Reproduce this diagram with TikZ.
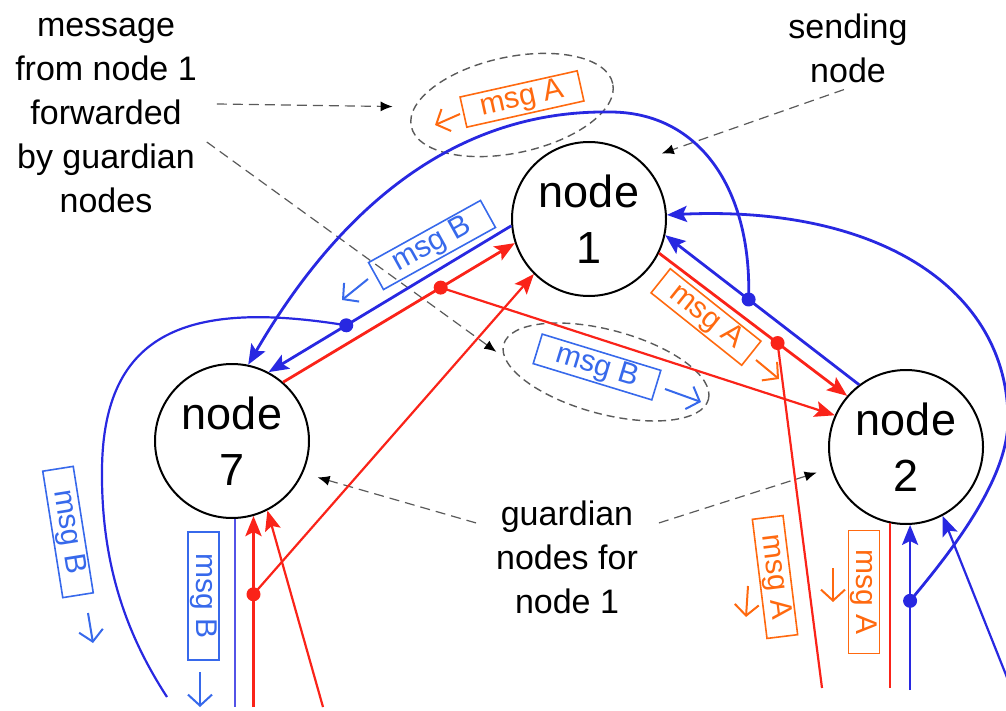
\documentclass[tikz,border=0pt]{standalone}
\usepackage{fontspec}
\setmainfont{Liberation Sans}
\usetikzlibrary{arrows.meta,positioning,shapes.geometric,calc}
\definecolor{lineblue}{RGB}{40,40,225}
\definecolor{msgblue}{RGB}{55,105,235}
\definecolor{linered}{RGB}{250,35,25}
\definecolor{msgorange}{RGB}{255,105,15}
\definecolor{hintgray}{RGB}{90,90,90}

\begin{document}
\begin{tikzpicture}[x=0.5pt,y=-0.5pt,node distance=2.5cm,on grid]
    \tikzset{station/.style={draw,circle,line width=1pt,minimum size=77pt,inner sep=0pt,align=center,font=\fontsize{22.5}{28}\selectfont},
      note/.style={align=center,font=\fontsize{17}{22}\selectfont},
      halo/.style={draw=hintgray,ellipse,dash pattern=on 4pt off 2.5pt,line width=0.7pt,inner sep=0pt},
      pointer/.style={draw=hintgray,dash pattern=on 5pt off 3pt,line width=0.6pt,-{Latex[length=6pt,width=5pt,color=black]}},
      msgA/.style={draw=msgorange,text=msgorange,line width=0.8pt,minimum width=60pt,minimum height=15pt,inner sep=1pt,font=\fontsize{15}{18}\selectfont},
      msgB/.style={msgA,draw=msgblue,text=msgblue},
      dirA/.style={msgorange,line width=1pt,-{Straight Barb[length=5.5pt,width=12pt]}},
      dirB/.style={dirA,msgblue},
      bline/.style={lineblue,line width=1.4pt},
      rline/.style={linered,line width=1.4pt},
      arr/.style={-{Stealth[length=10pt,width=8pt,inset=2pt]}},
      joint/.style={circle,inner sep=0pt,minimum size=7pt}}
    \useasboundingbox (0,0) rectangle (1006,711);
    \node[station] (n1) at (589,219) {node\\1};
    \node[station] (n7) [below left=111pt and 178.5pt of n1] {node\\7};
    \node[station] (n2) [below right=114pt and 158.5pt of n1] {node\\2};
    \node[note] (fwdtxt) at (106,116) {message\\from node 1\\forwarded\\by guardian\\nodes};
    \node[note] (sendtxt) at (848,48) {sending\\node};
    \node[note] (guardtxt) at (567,557) {guardian\\nodes for\\node 1};
    \node[halo,minimum width=103pt,minimum height=48pt,rotate=12] (ellA) at (512,105) {};
    \node[halo,minimum width=106pt,minimum height=42pt,rotate=-15] (ellB) at (606,372) {};

    \coordinate (jB1) at ($(n2.127)!0.57!(n1.348)$);
    \coordinate (jB3) at ($(n1.185)!0.68!(n7.62)$);
    \coordinate (jR1) at ($(n7.49)!0.68!(n1.198)$);
    \coordinate (jR2) at ($(n1.334)!0.63!(n2.139)$);
    \coordinate (bB7) at (n7.272 |- 0,707);
    \coordinate (bR7) at (n7.286 |- 0,707);
    \coordinate (bR7b) at (323,707);
    \coordinate (bB6) at (167,697);
    \coordinate (bR2a) at (822,688);
    \coordinate (bR2b) at (n2.258 |- 0,688);
    \coordinate (bB2) at (n2.273 |- 0,690);
    \coordinate (bB2b) at (1012,690);
    \coordinate (jR3) at ($(bR7)!0.59!(n7.286)$);
    \coordinate (jB2) at ($(bB2)!0.54!(n2.273)$);

    \draw[pointer] ([xshift=6.5pt,yshift=6pt]fwdtxt.east) -- ([xshift=-9pt,yshift=10pt]ellA.west);
    \draw[pointer] ([xshift=1.5pt,yshift=-13pt]fwdtxt.east) -- ([xshift=-3.3pt,yshift=-3.7pt]ellB.west);
    \draw[pointer] ([xshift=-2pt]sendtxt.south) -- ([shift={(42:10pt)}]n1.42);
    \draw[pointer] ([xshift=-6.5pt,yshift=-14.75pt]guardtxt.north west) -- ([shift={(-23:7.5pt)}]n7.-23);
    \draw[pointer] ([xshift=7pt,yshift=-14.75pt]guardtxt.north east) -- ([shift={(196:7.5pt)}]n2.196);

    \draw[bline,arr] (jB1) .. controls (752,190) and (700,112) .. (610,112) .. controls (470,110) and (350,190) .. (n7.78);
    \draw[bline,arr] (n2.127) -- (n1.348);
    \draw[bline,arr] (jB2) .. controls (950,553) and (1008,480) .. (1008,420) .. controls (1008,290) and (880,205) .. (n1.3);
    \draw[bline,arr] (n1.185) -- (n7.62);
    \draw[bline,line width=1.1pt] (jB3) .. controls (190,300) and (103,330) .. (102,470) .. controls (101,570) and (130,640) .. (bB6);
    \draw[lineblue!80,line width=1pt] (n7.272) -- (bB7);
    \draw[bline,arr] (bB2) -- (n2.273);
    \draw[bline,arr,line width=1.1pt] (bB2b) -- (n2.298);
    \draw[rline,arr] (n7.49) -- (n1.198);
    \draw[rline,arr,line width=1.1pt] (jR3) -- (n1.225);
    \draw[rline,arr,line width=1.1pt] (jR1) -- (n2.156);
    \draw[rline,arr] (n1.334) -- (n2.139);
    \draw[rline,line width=1.1pt] (jR2) -- (bR2a);
    \draw[rline,line width=1pt] (n2.258) -- (bR2b);
    \draw[rline,arr,line width=1.6pt] (bR7) -- (n7.286);
    \draw[rline,arr,line width=1.1pt] (bR7b) -- (n7.297);
    \foreach \j/\c in {jB1/lineblue,jB2/lineblue,jB3/lineblue,jR1/linered,jR2/linered,jR3/linered}
        \node[joint,fill=\c] (\j dot) at (\j) {};

    \node[msgA,rotate=12.6] (lblA1) at (522,99) {msg A};
    \node[msgB,rotate=29,minimum width=64pt] (lblB1) at (432,245) {msg B};
    \node[msgA,rotate=-38.6,minimum width=58pt] (lblA2) at (706,317) {msg A};
    \node[msgB,rotate=-17,minimum width=62pt] (lblB2) at (597,367) {msg B};
    \node[msgB,rotate=-81,minimum width=64pt] (lblB3) at (68,532) {msg B};
    \node[msgB,rotate=-90,minimum width=64pt] (lblB4) at (203.5,596) {msg B};
    \node[msgA,rotate=-83] (lblA3) at (775,577) {msg A};
    \node[msgA,rotate=-90,minimum width=61.5pt] (lblA4) at (864,592) {msg A};
    \draw[dirA] (460,114) -- (435,125);
    \draw[dirB] (368,279) -- (342,300);
    \draw[dirA] (756,360) -- (779,379);
    \draw[dirB] (665,389) -- (701,402);
    \draw[dirB] (88,613) -- (93,643);
    \draw[dirB] (200,672) -- (200,707);
    \draw[dirA] (748,586) -- (746,617);
    \draw[dirA] (833,568) -- (833,602);
\end{tikzpicture}
\end{document}
